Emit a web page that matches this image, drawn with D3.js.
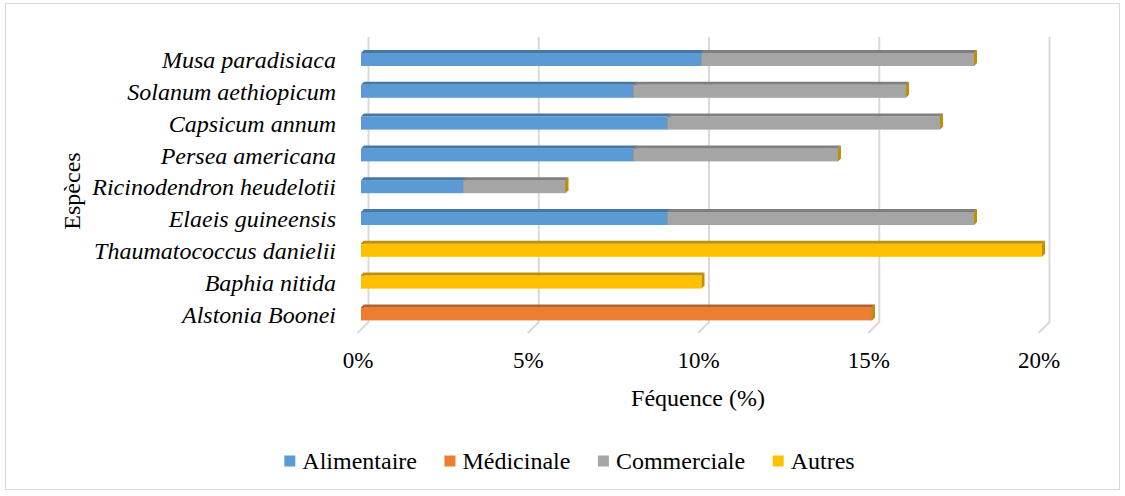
<!DOCTYPE html>
<html>
<head>
<meta charset="utf-8">
<script src="https://cdn.jsdelivr.net/npm/d3@7"></script>
<style>
  html, body { margin: 0; padding: 0; background: #fff; }
  svg { display: block; }
  svg text { font-family: "Liberation Serif", "Times New Roman", Times, serif; fill: #000; }
</style>
</head>
<body>
<svg id="chart" width="1125" height="496"></svg>
<script>
// Species, top to bottom
const species = [
  "Musa paradisiaca",
  "Solanum aethiopicum",
  "Capsicum annum",
  "Persea americana",
  "Ricinodendron heudelotii",
  "Elaeis guineensis",
  "Thaumatococcus danielii",
  "Baphia nitida",
  "Alstonia Boonei"
];

// Frequency (%) per use category
const alimentaire = [10, 8, 9, 8, 3, 9, 0, 0, 0];
const medicinale  = [0, 0, 0, 0, 0, 0, 0, 0, 15];
const commerciale = [8, 8, 8, 6, 3, 9, 0, 0, 0];
const autres      = [0, 0, 0, 0, 0, 0, 20, 10, 0];

const seriesNames = ["Alimentaire", "Médicinale", "Commerciale", "Autres"];
const xTicks = [0, 5, 10, 15, 20];

// Front / side face colours for each series
const faceColors = {
  "Alimentaire": ["#5b9bd5", "#4677a6"],
  "Médicinale":  ["#ed7d31", "#b8622a"],
  "Commerciale": ["#a5a5a5", "#7f7f7f"],
  "Autres":      ["#ffc000", "#bf9000"]
};

const rows = species.map((s, i) => ({
  species: s,
  "Alimentaire": alimentaire[i],
  "Médicinale": medicinale[i],
  "Commerciale": commerciale[i],
  "Autres": autres[i]
}));

const FS = 24;
const svg = d3.select("#chart");

// Outer frame
svg.append("rect")
  .attr("x", 5.5).attr("y", 3.5)
  .attr("width", 1114).attr("height", 486)
  .attr("fill", "#fff").attr("stroke", "#d9d9d9").attr("stroke-width", 1);

const x = d3.scaleLinear().domain([0, 20]).range([357.5, 1038.5]);
const y = d3.scaleBand().domain(species).range([43.6, 329.8]).padding(0);

// 3D geometry: back wall and bar depth offsets
const wallDx = 11, wallDy = -11;
const wallTop = 37, wallBottom = 322;
const barOff = 3.5, barDepth = 3, barH = 13;

// Gridlines on back wall, with floor segments
const grid = svg.append("g");
xTicks.forEach(v => {
  const xf = x(v);
  grid.append("path")
    .attr("d", `M${xf + wallDx},${wallTop} L${xf + wallDx},${wallBottom} L${xf},${wallBottom - wallDy}`)
    .attr("fill", "none")
    .attr("stroke", "#d9d9d9")
    .attr("stroke-width", 2);
});

// Stacked boxes
const stacked = d3.stack().keys(seriesNames)(rows);
const bars = svg.append("g");
stacked.forEach(layer => {
  const key = layer.key;
  const [front, side] = faceColors[key];
  const g = bars.append("g");
  layer.forEach(d => {
    const sp = d.data.species;
    const cy = y(sp) + y.bandwidth() / 2;
    const y0 = cy - barH / 2, y1 = cy + barH / 2;
    const xa = x(d[0]) + barOff, xb = x(d[1]) + barOff;
    // front face
    if (xb > xa) {
      g.append("rect")
        .attr("x", xa).attr("y", y0)
        .attr("width", xb - xa).attr("height", barH)
        .attr("fill", front);
      // top face
      g.append("path")
        .attr("d", `M${xa},${y0} L${xa + barDepth},${y0 - barDepth} L${xb + barDepth},${y0 - barDepth} L${xb},${y0} Z`)
        .attr("fill", side);
    }
    // right end face
    g.append("path")
      .attr("d", `M${xb},${y0} L${xb + barDepth},${y0 - barDepth} L${xb + barDepth},${y1 - barDepth} L${xb},${y1} Z`)
      .attr("fill", side);
  });
});

// Category axis labels
const yAxis = d3.axisLeft(y).tickSize(0).tickPadding(0);
const yg = svg.append("g").attr("transform", "translate(336,1)").call(yAxis)
  .attr("font-family", null).attr("font-size", null);
yg.select(".domain").remove();
yg.selectAll("text")
  .attr("font-style", "italic")
  .attr("font-size", FS)
  .attr("fill", "#000");

// Value axis labels
const xAxis = d3.axisBottom(x).tickValues(xTicks).tickSize(0).tickPadding(0)
  .tickFormat(d => d + "%");
const xg = svg.append("g").attr("transform", "translate(0,352)").call(xAxis)
  .attr("font-family", null).attr("font-size", null);
xg.select(".domain").remove();
xg.selectAll("text")
  .attr("font-size", 23)
  .attr("fill", "#000");

// Axis titles
svg.append("text")
  .attr("x", 698).attr("y", 398)
  .attr("text-anchor", "middle").attr("dominant-baseline", "central")
  .attr("font-size", FS)
  .text("Féquence (%)");

svg.append("text")
  .attr("transform", "translate(72,191) rotate(-90)")
  .attr("text-anchor", "middle").attr("dominant-baseline", "central")
  .attr("font-size", FS)
  .text("Espèces");

// Legend
const legend = svg.append("g");
const legendY = 461;
const items = legend.selectAll("g.item").data(seriesNames).join("g").attr("class", "item");
items.append("rect")
  .attr("width", 11).attr("height", 11)
  .attr("y", legendY - 5.5)
  .attr("fill", d => faceColors[d][0]);
items.append("text")
  .attr("x", 18).attr("y", legendY)
  .attr("dominant-baseline", "central")
  .attr("font-size", FS)
  .text(d => d);
const widths = items.nodes().map(n => n.getBBox().width);
const gap = 27.5;
const total = d3.sum(widths) + gap * (widths.length - 1);
let cursor = 569.5 - total / 2;
items.each(function (d, i) {
  d3.select(this).attr("transform", `translate(${cursor},0)`);
  cursor += widths[i] + gap;
});
</script>
</body>
</html>
